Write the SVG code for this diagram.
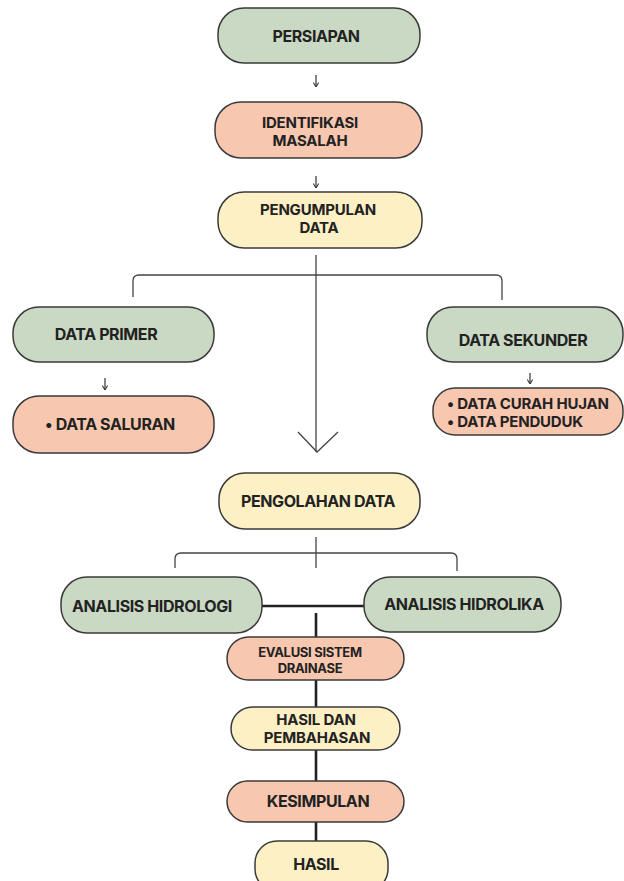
<svg xmlns="http://www.w3.org/2000/svg" width="624" height="881" viewBox="0 0 624 881">
<style>
.box{stroke:#3a3a3a;stroke-width:1.5}
.g{fill:#cad9c3}
.s{fill:#f8c7b0}
.y{fill:#fdf0c5}
.t{font-family:Inter,"Liberation Sans",sans-serif;font-weight:700;font-size:16px;letter-spacing:-0.4px;fill:#222;text-anchor:middle}
.ml{font-size:15px;letter-spacing:-0.2px}
.sm{font-size:13px;letter-spacing:-0.3px}
.thin{fill:none;stroke:#444;stroke-width:1.3}
.thick{fill:none;stroke:#222;stroke-width:2.6}
.arr{fill:none;stroke:#333;stroke-width:1.2}
</style>
<defs>
<marker id="ah" viewBox="0 0 10 10" refX="9.5" refY="5" markerWidth="6" markerHeight="6" orient="auto" markerUnits="userSpaceOnUse">
<path d="M2,0.5 L9.5,5 L2,9.5" fill="none" stroke="#333" stroke-width="1.8"/>
</marker>
</defs>
<rect width="624" height="881" fill="#fff"/>
<g id="connectors">
<path class="arr" d="M316,75 V87" marker-end="url(#ah)"/>
<path class="arr" d="M316,176 V188" marker-end="url(#ah)"/>
<path class="arr" d="M105,378 V390" marker-end="url(#ah)"/>
<path class="arr" d="M530,373 V384" marker-end="url(#ah)"/>
<path class="thin" d="M316,255 V452"/>
<path class="thin" d="M298,432 L317,452 L338,432"/>
<path class="thin" d="M133,297 V281 Q133,275 139,275 H496 Q502,275 502,281 V300"/>
<path class="thin" d="M316,537 V568"/>
<path class="thin" d="M175,568 V559 Q175,553 181,553 H451 Q457,553 457,559 V571"/>
<path class="thick" d="M262,606 H364"/>
<path class="thick" d="M316,613 V637"/>
<path class="thick" d="M316,680 V707"/>
<path class="thick" d="M316,750 V781"/>
<path class="thick" d="M316,822 V841"/>
</g>
<g id="persiapan"><rect class="box g" x="218" y="8" width="202" height="55" rx="26"/><text class="t" x="316" y="42">PERSIAPAN</text></g>
<g id="identifikasi"><rect class="box s" x="215" y="102" width="207" height="56" rx="26"/><text class="t ml" x="310" y="128"><tspan x="310">IDENTIFIKASI</tspan><tspan x="310" dy="18">MASALAH</tspan></text></g>
<g id="pengumpulan"><rect class="box y" x="218" y="192" width="204" height="56" rx="26"/><text class="t ml" x="318" y="215"><tspan x="318">PENGUMPULAN</tspan><tspan x="319" dy="18">DATA</tspan></text></g>
<g id="data-primer"><rect class="box g" x="13" y="307" width="201" height="55" rx="26"/><text class="t" x="106" y="340">DATA PRIMER</text></g>
<g id="data-saluran"><rect class="box s" x="13" y="396" width="201" height="57" rx="26"/><text class="t" x="110" y="430">• DATA SALURAN</text></g>
<g id="data-sekunder"><rect class="box g" x="427" y="307" width="196" height="55" rx="26"/><text class="t" x="523" y="346">DATA SEKUNDER</text></g>
<g id="data-curah"><rect class="box s" x="433" y="388" width="190" height="47" rx="22"/><text class="t ml" x="447" y="409" style="text-anchor:start"><tspan x="447">• DATA CURAH HUJAN</tspan><tspan x="447" dy="18">• DATA PENDUDUK</tspan></text></g>
<g id="pengolahan"><rect class="box y" x="219" y="473" width="201" height="56" rx="26"/><text class="t" x="318" y="507">PENGOLAHAN DATA</text></g>
<g id="hidrologi"><rect class="box g" x="61" y="577" width="201" height="56" rx="26"/><text class="t" x="152" y="612">ANALISIS HIDROLOGI</text></g>
<g id="hidrolika"><rect class="box g" x="364" y="577" width="197" height="55" rx="26"/><text class="t" x="464" y="610">ANALISIS HIDROLIKA</text></g>
<g id="evaluasi"><rect class="box s" x="227" y="637" width="177" height="43" rx="21.5"/><text class="t sm" x="310" y="657"><tspan x="310">EVALUSI SISTEM</tspan><tspan x="310" dy="16">DRAINASE</tspan></text></g>
<g id="hasil-pembahasan"><rect class="box y" x="231" y="707" width="169" height="43" rx="21.5"/><text class="t ml" x="316" y="725"><tspan x="316">HASIL DAN</tspan><tspan x="317" dy="18">PEMBAHASAN</tspan></text></g>
<g id="kesimpulan"><rect class="box s" x="227" y="781" width="177" height="41" rx="20.5"/><text class="t" x="318" y="807">KESIMPULAN</text></g>
<g id="hasil"><rect class="box y" x="255" y="841" width="133" height="50" rx="22"/><text class="t" x="316" y="870">HASIL</text></g>
</svg>
